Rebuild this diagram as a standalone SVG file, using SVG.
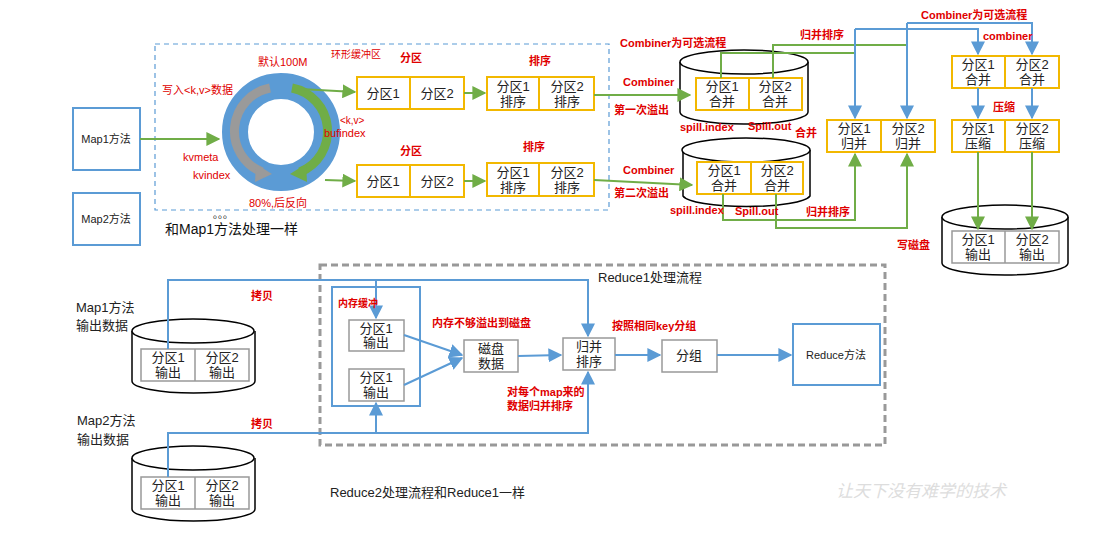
<svg xmlns="http://www.w3.org/2000/svg" width="1107" height="542" viewBox="0 0 1107 542">
<defs>
<marker id="ga" viewBox="0 0 10 10" refX="9" refY="5" markerWidth="7" markerHeight="7" orient="auto"><path d="M0,0L10,5L0,10z" fill="#70AD47"/></marker>
<marker id="ba" viewBox="0 0 10 10" refX="9" refY="5" markerWidth="7" markerHeight="7" orient="auto"><path d="M0,0L10,5L0,10z" fill="#5B9BD5"/></marker>
<style>
text{font-family:"Liberation Sans","Noto Sans CJK SC",sans-serif}
.r{fill:#E00000;font-size:11px;font-weight:bold}
.t{font-size:13px;fill:#222;text-anchor:middle}
.y{fill:#fff;stroke:#F2B800;stroke-width:2}
.gb{fill:#fff;stroke:#999;stroke-width:1.5}
.bb{fill:#fff;stroke:#5B9BD5;stroke-width:2}
.g{stroke:#70AD47;stroke-width:2;fill:none}
.b{stroke:#5B9BD5;stroke-width:2;fill:none}
.cy{fill:#fff;stroke:#000;stroke-width:1.5}
</style>
</defs>
<rect width="1107" height="542" fill="#fff"/>
<rect x="155" y="44" width="454" height="166" fill="none" stroke="#5B9BD5" stroke-width="1.2" stroke-dasharray="5,4"/>
<rect x="320" y="265" width="565" height="180" fill="none" stroke="#999" stroke-width="3" stroke-dasharray="7,4"/>

<g id="map1"><rect x="73" y="108" width="67" height="62" class="bb"/><text x="106" y="143" class="t" font-size="11" style="font-size:11px">Map1方法</text></g>
<g id="map2"><rect x="73" y="193" width="67" height="52" class="bb"/><text x="106" y="223" class="t" style="font-size:11px">Map2方法</text></g>

<g id="ring">
<circle cx="281" cy="132" r="46" fill="none" stroke="#5B9BD5" stroke-width="26"/>
<path d="M270,88 A44,44 0 0 0 262,172" stroke="#9A9A9A" stroke-width="9" fill="none"/>
<path d="M256,164 L272,174 L255,182z" fill="#9A9A9A"/>
<path d="M292,88 A44,44 0 0 1 300,172" stroke="#70AD47" stroke-width="9" fill="none"/>
<path d="M306,164 L290,174 L307,182z" fill="#70AD47"/>
</g>

<g id="part1"><rect x="357" y="77" width="107" height="32" class="y"/><line x1="410" y1="77" x2="410" y2="109" class="y"/><text x="383" y="98" class="t">分区1</text><text x="437" y="98" class="t">分区2</text></g>
<g id="sort1"><rect x="487" y="77" width="107" height="33" class="y"/><line x1="539" y1="77" x2="539" y2="110" class="y"/><text x="513" y="91" class="t">分区1</text><text x="513" y="106" class="t">排序</text><text x="567" y="91" class="t">分区2</text><text x="567" y="106" class="t">排序</text></g>
<g id="part2"><rect x="357" y="165" width="107" height="32" class="y"/><line x1="410" y1="165" x2="410" y2="197" class="y"/><text x="383" y="186" class="t">分区1</text><text x="437" y="186" class="t">分区2</text></g>
<g id="sort2"><rect x="487" y="163" width="107" height="33" class="y"/><line x1="539" y1="163" x2="539" y2="196" class="y"/><text x="513" y="177" class="t">分区1</text><text x="513" y="192" class="t">排序</text><text x="567" y="177" class="t">分区2</text><text x="567" y="192" class="t">排序</text></g>

<g id="cyl1"><path d="M680,62 V112 A64,12 0 0 0 808,112 V62" class="cy"/><ellipse cx="744" cy="62" rx="64" ry="12" class="cy"/>
<rect x="696" y="78" width="106" height="32" class="y"/><line x1="749" y1="78" x2="749" y2="110" class="y"/><text x="722" y="91" class="t">分区1</text><text x="722" y="106" class="t">合并</text><text x="775" y="91" class="t">分区2</text><text x="775" y="106" class="t">合并</text></g>
<g id="cyl2"><path d="M683,150 V196 A64,12 0 0 0 810,196 V150" class="cy"/><ellipse cx="746" cy="150" rx="64" ry="12" class="cy"/>
<rect x="697" y="162" width="106" height="32" class="y"/><line x1="751" y1="162" x2="751" y2="194" class="y"/><text x="724" y="175" class="t">分区1</text><text x="724" y="190" class="t">合并</text><text x="777" y="175" class="t">分区2</text><text x="777" y="190" class="t">合并</text></g>
<g id="merge"><rect x="827" y="120" width="108" height="32" class="y"/><line x1="881" y1="120" x2="881" y2="152" class="y"/><text x="854" y="133" class="t">分区1</text><text x="854" y="148" class="t">归并</text><text x="908" y="133" class="t">分区2</text><text x="908" y="148" class="t">归并</text></g>
<g id="comb"><rect x="952" y="56" width="107" height="32" class="y"/><line x1="1005" y1="56" x2="1005" y2="88" class="y"/><text x="978" y="69" class="t">分区1</text><text x="978" y="84" class="t">合并</text><text x="1032" y="69" class="t">分区2</text><text x="1032" y="84" class="t">合并</text></g>
<g id="comp"><rect x="952" y="120" width="107" height="32" class="y"/><line x1="1005" y1="120" x2="1005" y2="152" class="y"/><text x="978" y="133" class="t">分区1</text><text x="978" y="148" class="t">压缩</text><text x="1032" y="133" class="t">分区2</text><text x="1032" y="148" class="t">压缩</text></g>
<g id="outcyl"><path d="M942,217 V263 A63,12 0 0 0 1068,263 V217" class="cy"/><ellipse cx="1005" cy="217" rx="63" ry="12" class="cy"/>
<rect x="952" y="231" width="107" height="32" class="gb"/><line x1="1005" y1="231" x2="1005" y2="263" class="gb"/><text x="978" y="244" class="t">分区1</text><text x="978" y="259" class="t">输出</text><text x="1032" y="244" class="t">分区2</text><text x="1032" y="259" class="t">输出</text></g>

<g id="m1cyl"><path d="M132,331 V381 A61,12 0 0 0 255,381 V331" class="cy"/><ellipse cx="193" cy="331" rx="61" ry="12" class="cy"/>
<rect x="141" y="349" width="108" height="32" class="gb"/><line x1="195" y1="349" x2="195" y2="381" class="gb"/><text x="168" y="362" class="t">分区1</text><text x="168" y="377" class="t">输出</text><text x="222" y="362" class="t">分区2</text><text x="222" y="377" class="t">输出</text></g>
<g id="m2cyl"><path d="M132,458 V509 A61,12 0 0 0 255,509 V458" class="cy"/><ellipse cx="193" cy="458" rx="61" ry="12" class="cy"/>
<rect x="141" y="477" width="108" height="32" class="gb"/><line x1="195" y1="477" x2="195" y2="509" class="gb"/><text x="168" y="490" class="t">分区1</text><text x="168" y="505" class="t">输出</text><text x="222" y="490" class="t">分区2</text><text x="222" y="505" class="t">输出</text></g>
<g id="mem"><rect x="332" y="287" width="88" height="119" fill="none" stroke="#5B9BD5" stroke-width="2"/>
<rect x="349" y="320" width="55" height="31" class="gb"/><text x="376" y="333" class="t">分区1</text><text x="376" y="347" class="t">输出</text>
<rect x="349" y="369" width="55" height="32" class="gb"/><text x="376" y="382" class="t">分区1</text><text x="376" y="397" class="t">输出</text></g>
<g id="disk"><rect x="464" y="340" width="54" height="32" class="gb"/><text x="491" y="353" class="t">磁盘</text><text x="491" y="368" class="t">数据</text></g>
<g id="msort"><rect x="563" y="338" width="52" height="32" class="gb"/><text x="589" y="351" class="t">归并</text><text x="589" y="366" class="t">排序</text></g>
<g id="group"><rect x="662" y="340" width="55" height="32" class="gb"/><text x="689" y="360" class="t">分组</text></g>
<g id="reduce"><rect x="793" y="324" width="87" height="61" class="bb"/><text x="836" y="359" class="t" style="font-size:11px">Reduce方法</text></g>

<g id="connectors">
<line x1="140" y1="139" x2="219" y2="139" class="g" marker-end="url(#ga)"/>
<line x1="300" y1="89" x2="355" y2="92" class="g" marker-end="url(#ga)"/>
<line x1="325" y1="180" x2="355" y2="181" class="g" marker-end="url(#ga)"/>
<line x1="464" y1="93" x2="485" y2="93" class="g" marker-end="url(#ga)"/>
<line x1="464" y1="181" x2="485" y2="181" class="g" marker-end="url(#ga)"/>
<line x1="594" y1="95" x2="690" y2="95" class="g" marker-end="url(#ga)"/>
<line x1="594" y1="180" x2="692" y2="185" class="g" marker-end="url(#ga)"/>
<polyline points="721,78 721,53 855,53" class="g"/>
<polyline points="773,78 773,45 907,45" class="g"/>
<polyline points="723,194 723,220 855,220 855,154" class="g" marker-end="url(#ga)"/>
<polyline points="776,194 776,228 907,228 907,154" class="g" marker-end="url(#ga)"/>
<polyline points="855,29 855,118" class="b" marker-end="url(#ba)"/>
<polyline points="907,23 907,118" class="b" marker-end="url(#ba)"/>
<polyline points="855,29 978,29 978,54" class="b" marker-end="url(#ba)"/>
<polyline points="907,23 1032,23 1032,54" class="b" marker-end="url(#ba)"/>
<line x1="978" y1="88" x2="978" y2="118" class="b" marker-end="url(#ba)"/>
<line x1="1032" y1="88" x2="1032" y2="118" class="b" marker-end="url(#ba)"/>
<line x1="978" y1="152" x2="978" y2="229" class="g" marker-end="url(#ga)"/>
<line x1="1032" y1="152" x2="1032" y2="229" class="g" marker-end="url(#ga)"/>
<polyline points="168,349 168,280 588,280 588,336" class="b" marker-end="url(#ba)"/>
<line x1="376" y1="280" x2="376" y2="318" class="b" marker-end="url(#ba)"/>
<polyline points="168,477 168,433 588,433 588,372" class="b" marker-end="url(#ba)"/>
<line x1="376" y1="433" x2="376" y2="403" class="b" marker-end="url(#ba)"/>
<line x1="404" y1="335" x2="462" y2="355" class="b" marker-end="url(#ba)"/>
<line x1="404" y1="385" x2="462" y2="358" class="b" marker-end="url(#ba)"/>
<line x1="518" y1="356" x2="561" y2="355" class="b" marker-end="url(#ba)"/>
<line x1="615" y1="355" x2="660" y2="355" class="b" marker-end="url(#ba)"/>
<line x1="717" y1="355" x2="791" y2="355" class="b" marker-end="url(#ba)"/>
</g>

<g id="labels">
<text x="258" y="66" class="r" style="font-weight:normal">默认100M</text>
<text x="331" y="58" class="r" style="font-weight:normal;font-size:10px">环形缓冲区</text>
<text x="400" y="62" class="r">分区</text>
<text x="529" y="65" class="r">排序</text>
<text x="400" y="155" class="r">分区</text>
<text x="523" y="151" class="r">排序</text>
<text x="162" y="94" class="r" style="font-weight:normal">写入&lt;k,v&gt;数据</text>
<text x="183" y="161" class="r" style="font-weight:normal">kvmeta</text>
<text x="193" y="179" class="r" style="font-weight:normal">kvindex</text>
<text x="249" y="207" class="r" style="font-weight:normal">80%,后反向</text>
<text x="340" y="124" class="r" style="font-weight:normal;font-size:10px">&lt;k,v&gt;</text>
<text x="324" y="137" class="r" style="font-weight:normal">bufindex</text>
<text x="213" y="218" style="font-size:10px">。。。</text>
<text x="165" y="234" style="font-size:14px;fill:#111">和Map1方法处理一样</text>
<text x="620" y="47" class="r">Combiner为可选流程</text>
<text x="623" y="86" class="r">Combiner</text>
<text x="614" y="114" class="r">第一次溢出</text>
<text x="680" y="131" class="r">spill.index</text>
<text x="748" y="130" class="r">Spill.out</text>
<text x="795" y="137" class="r">合并</text>
<text x="623" y="174" class="r">Combiner</text>
<text x="614" y="197" class="r">第二次溢出</text>
<text x="670" y="214" class="r">spill.index</text>
<text x="735" y="215" class="r">Spill.out</text>
<text x="806" y="216" class="r">归并排序</text>
<text x="800" y="39" class="r">归并排序</text>
<text x="921" y="19" class="r">Combiner为可选流程</text>
<text x="983" y="40" class="r">combiner</text>
<text x="993" y="111" class="r">压缩</text>
<text x="897" y="249" class="r">写磁盘</text>
<text x="598" y="282" style="font-size:13px;fill:#222">Reduce1处理流程</text>
<text x="338" y="307" class="r" style="font-size:10px">内存缓冲</text>
<text x="432" y="327" class="r">内存不够溢出到磁盘</text>
<text x="612" y="330" class="r">按照相同key分组</text>
<text x="507" y="396" class="r">对每个map来的</text>
<text x="507" y="410" class="r">数据归并排序</text>
<text x="251" y="300" class="r">拷贝</text>
<text x="251" y="428" class="r">拷贝</text>
<text x="76" y="312" style="font-size:13px;fill:#222">Map1方法</text>
<text x="76" y="330" style="font-size:13px;fill:#222">输出数据</text>
<text x="77" y="425" style="font-size:13px;fill:#222">Map2方法</text>
<text x="77" y="444" style="font-size:13px;fill:#222">输出数据</text>
<text x="330" y="497" style="font-size:13px;fill:#222">Reduce2处理流程和Reduce1一样</text>
<text x="836" y="497" style="font-size:17px;fill:#ddd;font-style:italic">让天下没有难学的技术</text>
</g>
</svg>
